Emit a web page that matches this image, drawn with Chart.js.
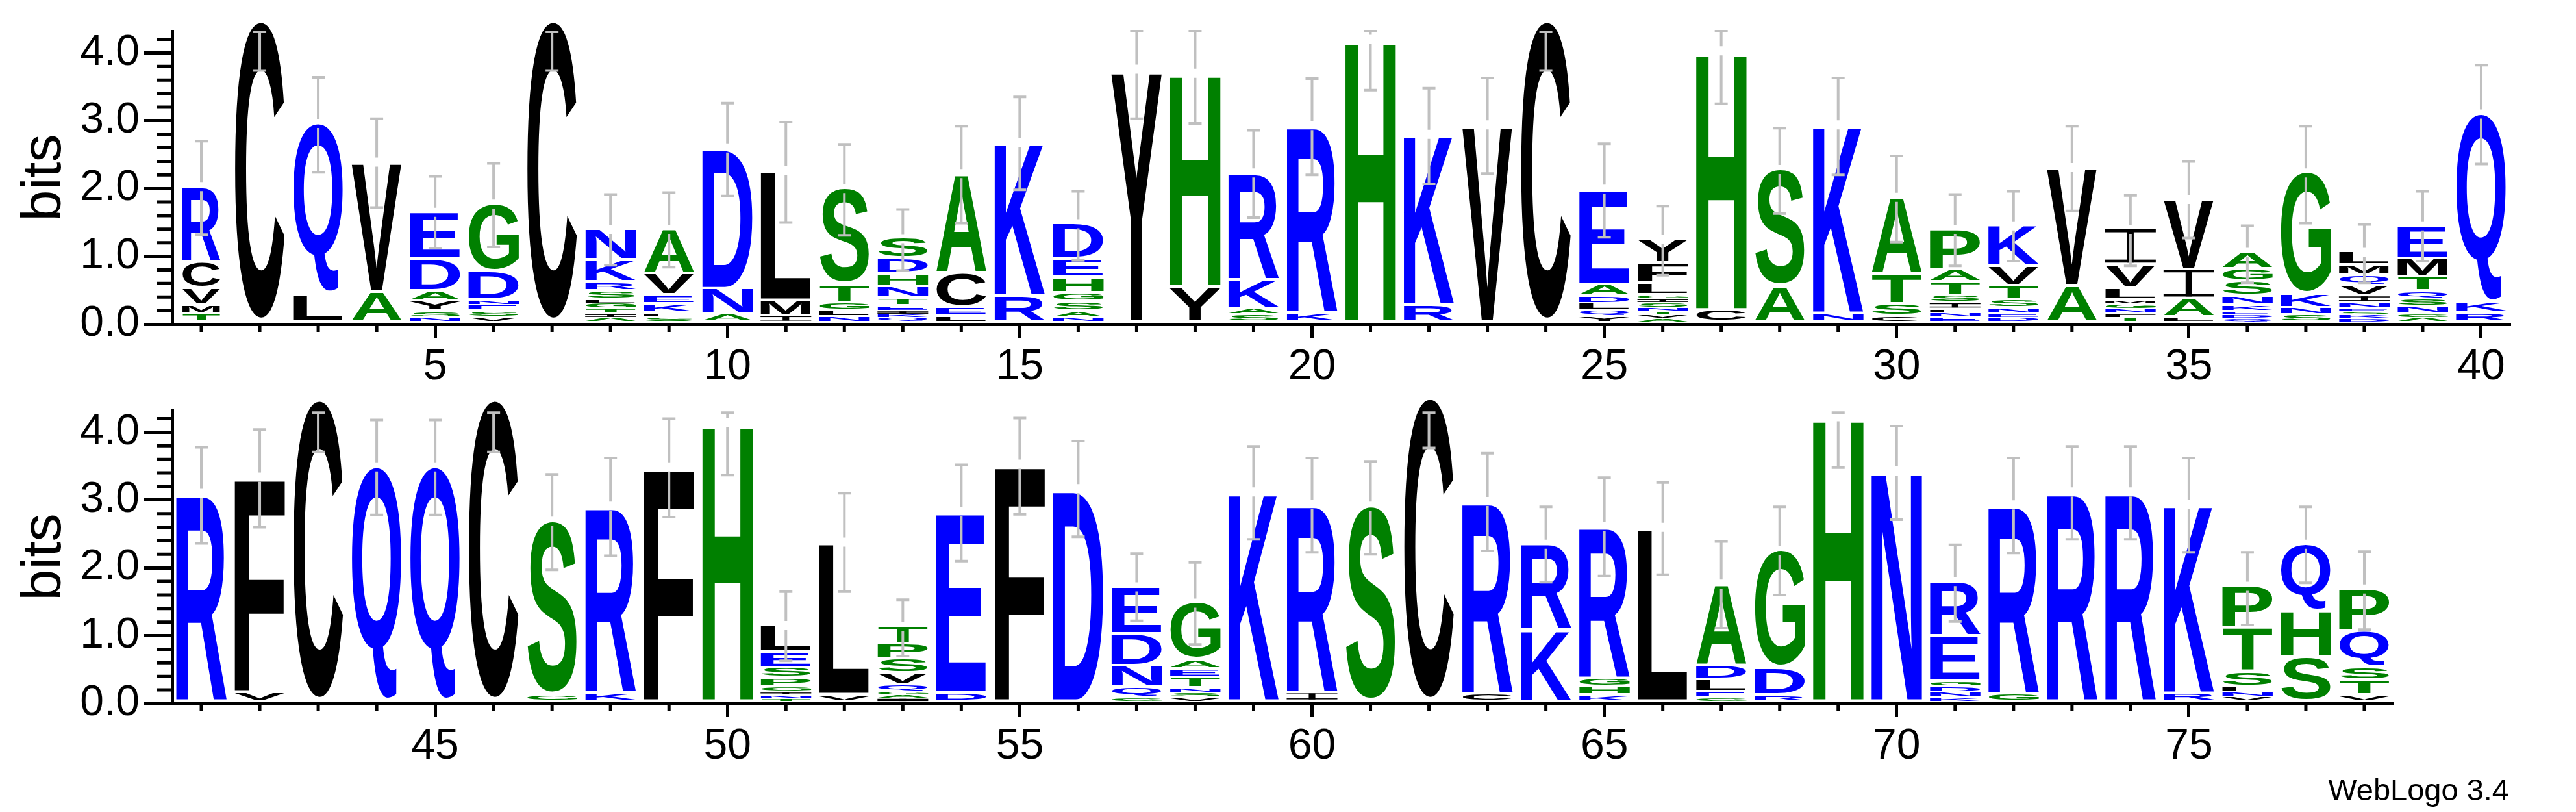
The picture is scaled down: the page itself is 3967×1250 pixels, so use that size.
<!DOCTYPE html>
<html>
<head>
<meta charset="utf-8">
<script src="https://cdn.jsdelivr.net/npm/chart.js@4.4.1/dist/chart.umd.min.js"></script>
<style>
  html, body { margin: 0; padding: 0; background: #fff; }
  #wrap { position: relative; width: 3967px; height: 1250px; overflow: hidden; }
  canvas { position: absolute; left: 0; }
  #logoTop { top: 0; }
  #logoBottom { top: 560px; }
  #credit { position: absolute; right: 103px; top: 1192px; font: 47px 'Liberation Sans', Arial, sans-serif; line-height: 1; color: #000; }
</style>
</head>
<body>
<div id="wrap">
  <canvas id="logoTop" width="3967" height="600"></canvas>
  <canvas id="logoBottom" width="3967" height="690"></canvas>
  <div id="credit">WebLogo 3.4</div>
</div>
<script>
// positions of each row
const positions1 = [1, 2, 3, 4, 5, 6, 7, 8, 9, 10, 11, 12, 13, 14, 15, 16, 17, 18, 19, 20,
  21, 22, 23, 24, 25, 26, 27, 28, 29, 30, 31, 32, 33, 34, 35, 36, 37, 38, 39, 40];
const positions2 = [41, 42, 43, 44, 45, 46, 47, 48, 49, 50, 51, 52, 53, 54, 55, 56, 57, 58, 59,
  60, 61, 62, 63, 64, 65, 66, 67, 68, 69, 70, 71, 72, 73, 74, 75, 76, 77, 78];

// letters of each stack, top to bottom, and their heights in bits
const letters1 = ['RCVMT', 'C', 'QL', 'VA', 'EDAYSN', 'GDNESV', 'C', 'NKRSLGTIA', 'AVEKLS', 'DNA',
  'LMI', 'STGLN', 'SDHNTEIKQ', 'ACEL', 'KR', 'DEHGSAN', 'Y', 'HY', 'RKAS', 'RK',
  'H', 'KR', 'V', 'C', 'EADLQY', 'YFLGISNTVA', 'HC', 'SA', 'KN', 'ATSC',
  'PATSILNE', 'KVTSNED', 'VA', 'IVLMGNFT', 'VIAL', 'AGSNKEDQ', 'GKNS', 'LMQVINESKD', 'EMTQSNGA', 'QKR'];
const bits1 = [
  [1.13, 0.38, 0.25, 0.12, 0.13], [4.45], [2.52, 0.42], [1.92, 0.45],
  [0.69, 0.48, 0.15, 0.15, 0.09, 0.07], [1.00, 0.42, 0.07, 0.09, 0.09, 0.08], [4.45],
  [0.46, 0.33, 0.13, 0.12, 0.06, 0.08, 0.07, 0.06, 0.07], [0.66, 0.32, 0.13, 0.14, 0.05, 0.08],
  [2.09, 0.37, 0.12], [1.93, 0.22, 0.10], [1.42, 0.28, 0.10, 0.09, 0.09],
  [0.30, 0.22, 0.19, 0.18, 0.11, 0.07, 0.05, 0.05, 0.07], [1.47, 0.51, 0.12, 0.10], [2.27, 0.39],
  [0.52, 0.28, 0.23, 0.13, 0.14, 0.09, 0.07], [3.74], [3.16, 0.52], [1.59, 0.42, 0.08, 0.12],
  [2.77, 0.14], [4.18], [2.53, 0.25], [2.92], [4.45], [1.42, 0.17, 0.10, 0.10, 0.09, 0.09],
  [0.36, 0.29, 0.18, 0.05, 0.06, 0.07, 0.06, 0.05, 0.05, 0.06], [3.83, 0.18], [1.73, 0.53],
  [2.79, 0.13], [1.14, 0.44, 0.18, 0.09], [0.60, 0.19, 0.20, 0.10, 0.09, 0.06, 0.07, 0.07],
  [0.60, 0.29, 0.20, 0.13, 0.08, 0.06, 0.07], [1.75, 0.54], [0.53, 0.34, 0.18, 0.06, 0.07, 0.07, 0.06, 0.07],
  [1.04, 0.43, 0.27, 0.08], [0.25, 0.19, 0.21, 0.14, 0.09, 0.05, 0.05, 0.06], [1.80, 0.20, 0.10, 0.11],
  [0.20, 0.15, 0.15, 0.15, 0.10, 0.09, 0.04, 0.05, 0.05, 0.06], [0.49, 0.27, 0.21, 0.12, 0.10, 0.11, 0.06, 0.07],
  [2.79, 0.15, 0.14]
];
const errLow1 = [1.32, 3.74, 2.24, 1.72, 1.12, 1.14, 3.74, 0.87, 0.84, 1.89, 1.50, 1.31, 0.79, 1.49, 1.98, 0.94,
  3.03, 2.96, 1.57, 2.20, 3.45, 2.07, 2.22, 3.74, 1.28, 0.72, 3.25, 1.63, 2.20, 1.21, 0.86, 0.93, 1.67, 0.86,
  1.27, 0.61, 1.49, 0.61, 0.93, 2.36];
const errHigh1 = [2.70, 4.31, 3.64, 3.03, 2.18, 2.37, 4.31, 1.91, 1.94, 3.26, 2.98, 2.65, 1.69, 2.92, 3.35, 1.96,
  4.32, 4.32, 2.86, 3.62, 4.32, 3.48, 3.63, 4.31, 2.66, 1.74, 4.32, 2.89, 3.63, 2.48, 1.91, 1.96, 2.92, 1.90,
  2.40, 1.45, 2.92, 1.47, 1.96, 3.82];

const letters2 = ['R', 'FV', 'C', 'Q', 'Q', 'C', 'SG', 'RK', 'F', 'H', 'LESPGINT', 'LV', 'TPSVQGAI', 'ED',
  'F', 'D', 'EDNQG', 'GAETNSV', 'K', 'RI', 'S', 'C', 'RC', 'RK', 'RGHK', 'L', 'ADLEG', 'GDR', 'H', 'N',
  'REGDNK', 'RG', 'R', 'R', 'KR', 'PTSLNV', 'QHS', 'PQSTV'];
const bits2 = [
  [3.08], [3.18, 0.14], [4.46], [3.47], [3.47], [4.46], [2.57, 0.10], [2.76, 0.13], [3.47], [4.12],
  [0.39, 0.24, 0.15, 0.13, 0.07, 0.05, 0.06, 0.04], [2.26, 0.10], [0.26, 0.22, 0.21, 0.17, 0.10, 0.05, 0.05, 0.05],
  [2.68, 0.13], [3.51], [3.15], [0.70, 0.47, 0.32, 0.15, 0.06], [0.84, 0.14, 0.13, 0.15, 0.07, 0.07, 0.06],
  [3.10], [2.79, 0.13], [2.89], [4.49], [2.85, 0.11], [1.27, 1.06], [2.25, 0.12, 0.12, 0.10], [2.58],
  [1.20, 0.21, 0.19, 0.08, 0.06], [1.74, 0.40, 0.10], [4.21], [3.41], [0.81, 0.67, 0.07, 0.09, 0.08, 0.06],
  [2.80, 0.11], [3.10], [3.10], [2.80, 0.12], [0.62, 0.65, 0.22, 0.08, 0.07, 0.07], [0.99, 0.68, 0.66],
  [0.63, 0.54, 0.19, 0.21, 0.10]
];
const errLow2 = [2.36, 2.60, 3.71, 2.78, 2.78, 3.71, 1.97, 2.18, 2.75, 3.37, 0.63, 1.65, 0.70, 2.10, 2.79, 2.46,
  1.22, 0.87, 2.42, 2.23, 2.20, 3.77, 2.25, 1.79, 1.88, 1.90, 1.11, 1.60, 3.48, 2.71, 1.21, 2.22, 2.42, 2.42,
  2.23, 1.16, 1.78, 1.09];
const errHigh2 = [3.78, 4.04, 4.29, 4.18, 4.18, 4.29, 3.38, 3.62, 4.20, 4.29, 1.65, 3.10, 1.53, 3.52, 4.21, 3.87,
  2.21, 2.08, 3.79, 3.62, 3.57, 4.29, 3.69, 2.90, 3.33, 3.26, 2.39, 2.90, 4.29, 4.09, 2.34, 3.62, 3.79, 3.79,
  3.62, 2.23, 2.90, 2.24];

// axis ticks
const yTickValues = [0, 0.2, 0.4, 0.6, 0.8, 1, 1.2, 1.4, 1.6, 1.8, 2, 2.2, 2.4, 2.6, 2.8, 3, 3.2, 3.4, 3.6, 3.8, 4, 4.2];
const yMajorTicks = [0, 1, 2, 3, 4];
const xLabelled = [5, 10, 15, 20, 25, 30, 35, 40, 45, 50, 55, 60, 65, 70, 75];

const FONT = "'Liberation Sans', Arial, sans-serif";
const colorFor = (ch) => 'RKDENQ'.includes(ch) ? '#0000ff' : ('SGHTAP'.includes(ch) ? '#008000' : '#000000');

const buildDatasets = (letters, bits) => {
  const depth = Math.max(...letters.map((s) => s.length));
  const sets = [];
  for (let k = 0; k < depth; k++) {
    const data = [];
    const chars = [];
    letters.forEach((s, i) => {
      const j = s.length - 1 - k; // k counts from the bottom of the stack
      data.push(j >= 0 ? bits[i][j] : 0);
      chars.push(j >= 0 ? s[j] : '');
    });
    sets.push({
      data,
      letters: chars,
      backgroundColor: 'rgba(0,0,0,0)',
      borderWidth: 0,
      barPercentage: 0.867,
      categoryPercentage: 1,
      stack: 'logo',
    });
  }
  return sets;
};

const glyphs = {};
const glyphBox = (ctx, ch) => {
  if (!glyphs[ch]) {
    ctx.font = 'bold 400px ' + FONT;
    const m = ctx.measureText(ch);
    glyphs[ch] = { l: m.actualBoundingBoxLeft, r: m.actualBoundingBoxRight, a: m.actualBoundingBoxAscent, d: m.actualBoundingBoxDescent };
  }
  return glyphs[ch];
};

// stretched letters + grey error bars
const logoLetters = {
  id: 'logoLetters',
  afterDatasetsDraw(chart) {
    const ctx = chart.ctx;
    const yScale = chart.scales.y;
    const { errLow, errHigh, narrow } = chart.options.plugins.logoLetters;
    chart.data.datasets.forEach((ds, k) => {
      chart.getDatasetMeta(k).data.forEach((bar, i) => {
        const ch = ds.letters[i];
        if (!ch) return;
        const { x, y, base } = bar.getProps(['x', 'y', 'base'], true);
        const width = narrow && narrow[i] ? narrow[i] : bar.width;
        let h = base - y;
        if (h < 0.5) return;
        h -= Math.min(4, h * 0.3);
        const left = x - width / 2;
        const top = y - 2;
        ctx.save();
        ctx.fillStyle = colorFor(ch);
        if (ch === 'I') {
          // serif I as drawn by the logo
          const bar = Math.max(1.5, h * 0.09);
          const stem = width * 0.13;
          ctx.fillRect(left, top, width, bar);
          ctx.fillRect(left, top + h - bar, width, bar);
          ctx.fillRect(x - stem / 2, top, stem, h);
        } else {
          const g = glyphBox(ctx, ch);
          ctx.font = 'bold 400px ' + FONT;
          ctx.textAlign = 'left';
          ctx.textBaseline = 'alphabetic';
          ctx.translate(left, top);
          ctx.scale(width / (g.l + g.r), h / (g.a + g.d));
          ctx.fillText(ch, g.l, g.a);
        }
        ctx.restore();
      });
    });

    const meta = chart.getDatasetMeta(0);
    ctx.save();
    ctx.strokeStyle = '#c0c0c0';
    ctx.lineWidth = 4;
    meta.data.forEach((bar, i) => {
      const total = chart.data.datasets.reduce((s, ds) => s + ds.data[i], 0);
      const top = yScale.getPixelForValue(total) - 2;
      const hi = yScale.getPixelForValue(errHigh[i]);
      const lo = yScale.getPixelForValue(errLow[i]);
      const x = bar.x;
      ctx.beginPath();
      if (top > hi && top < lo) {
        ctx.moveTo(x, hi); ctx.lineTo(x, Math.max(hi, top - 7));
        ctx.moveTo(x, Math.min(lo, top + 7)); ctx.lineTo(x, lo);
      } else {
        ctx.moveTo(x, hi); ctx.lineTo(x, lo);
      }
      ctx.moveTo(x - 10, hi); ctx.lineTo(x + 10, hi);
      ctx.moveTo(x - 10, lo); ctx.lineTo(x + 10, lo);
      ctx.stroke();
    });
    ctx.restore();
  },
};

const minorTicks = {
  id: 'minorTicks',
  afterDraw(chart) {
    const { ctx } = chart;
    const { x, y } = chart.scales;
    ctx.save();
    ctx.strokeStyle = '#000';
    ctx.lineWidth = 5;
    ctx.beginPath();
    yTickValues.forEach((v) => {
      if (yMajorTicks.includes(v)) return;
      const py = y.getPixelForValue(v);
      ctx.moveTo(y.right - 23, py);
      ctx.lineTo(y.right, py);
    });
    chart.data.labels.forEach((lab, i) => {
      if (xLabelled.includes(lab)) return;
      const px = x.getPixelForValue(i);
      ctx.moveTo(px, x.top);
      ctx.lineTo(px, x.top + 12);
    });
    ctx.stroke();
    ctx.restore();
  },
};

const makeLogo = (canvas, labels, letters, bits, errLow, errHigh, narrow, pad, xHeight) => new Chart(canvas, {
  type: 'bar',
  data: { labels, datasets: buildDatasets(letters, bits) },
  options: {
    responsive: false,
    animation: false,
    devicePixelRatio: 1,
    events: [],
    layout: { padding: pad },
    plugins: {
      legend: { display: false },
      tooltip: { enabled: false },
      logoLetters: { errLow, errHigh, narrow },
    },
    scales: {
      x: {
        stacked: true,
        offset: true,
        afterFit: (scale) => { scale.height = xHeight; },
        grid: {
          drawOnChartArea: false,
          offset: false,
          tickLength: 21,
          tickWidth: 5,
          tickColor: (c) => (c.tick && c.tick.label !== '' ? '#000' : 'rgba(0,0,0,0)'),
        },
        border: { display: true, color: '#000', width: 5 },
        ticks: {
          autoSkip: false,
          maxRotation: 0,
          padding: 6,
          color: '#000',
          font: { family: FONT, size: 66 },
          callback(v) {
            const lab = this.getLabelForValue(v);
            return xLabelled.includes(lab) ? String(lab) : '';
          },
        },
      },
      y: {
        stacked: true,
        min: 0,
        max: 4.32,
        afterFit: (scale) => { scale.width = 265; },
        afterBuildTicks: (scale) => { scale.ticks = yTickValues.map((value) => ({ value })); },
        grid: {
          drawOnChartArea: false,
          tickLength: 44,
          tickWidth: 5,
          tickColor: (c) => (c.tick && yMajorTicks.includes(c.tick.value) ? '#000' : 'rgba(0,0,0,0)'),
        },
        border: { display: true, color: '#000', width: 5 },
        title: { display: true, text: 'bits', color: '#000', font: { family: FONT, size: 86 }, padding: { top: 18, bottom: 0 } },
        ticks: {
          autoSkip: false,
          padding: 6,
          color: '#000',
          font: { family: FONT, size: 66 },
          callback: (v) => (yMajorTicks.includes(v) ? v.toFixed(1) : ''),
        },
      },
    },
  },
  plugins: [logoLetters, minorTicks],
});

// the first column of the top row is drawn narrower in the source logo
makeLogo(document.getElementById('logoTop'), positions1, letters1, bits1, errLow1, errHigh1, { 0: 59 },
  { top: 48, right: 101, left: 0, bottom: 0 }, 101);
makeLogo(document.getElementById('logoBottom'), positions2, letters2, bits2, errLow2, errHigh2, null,
  { top: 72, right: 281, left: 0, bottom: 0 }, 167);
</script>
</body>
</html>
